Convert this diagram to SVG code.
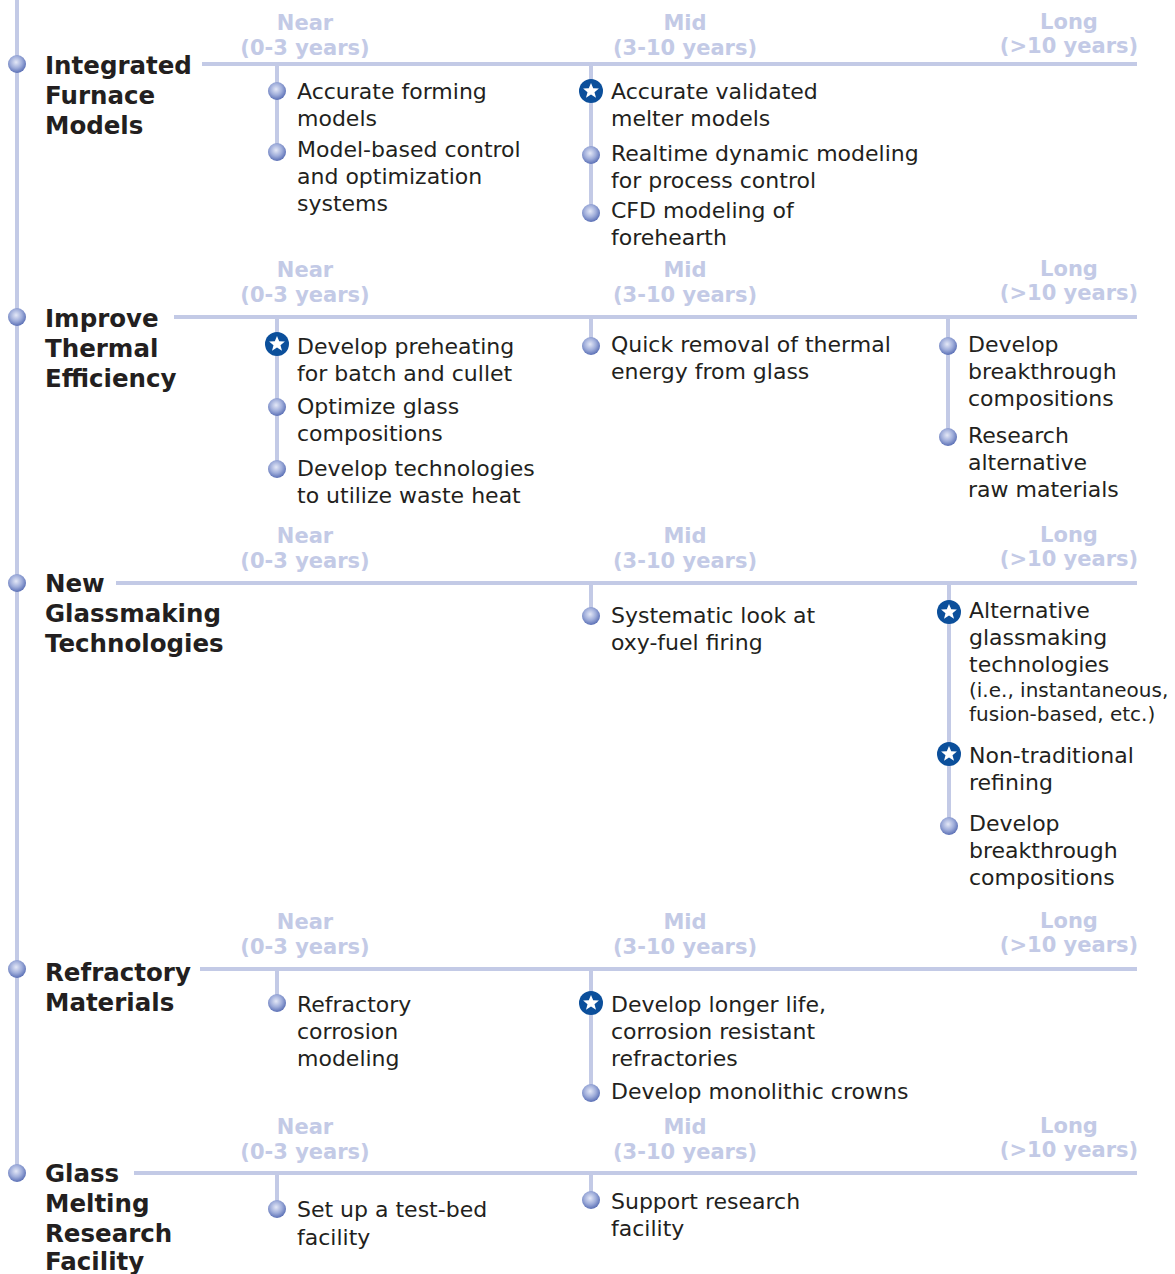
<svg xmlns="http://www.w3.org/2000/svg" xmlns:xlink="http://www.w3.org/1999/xlink" width="1175" height="1274" viewBox="0 0 1175 1274">
<style>
.ln{stroke:#c3cae6;stroke-width:4;fill:none}
.t{font-family:"DejaVu Sans",Verdana,sans-serif;font-size:22px;fill:#231f20}
.s{font-family:"DejaVu Sans",Verdana,sans-serif;font-size:20px;fill:#231f20}
.h{font-family:"DejaVu Sans",Verdana,sans-serif;font-size:24.5px;font-weight:bold;fill:#231f20}
.tl{font-family:"DejaVu Sans",Verdana,sans-serif;font-size:21px;font-weight:bold;fill:#c3cae6;text-anchor:middle}
</style>
<defs>
<radialGradient id="g" cx="0.45" cy="0.4" r="0.6">
<stop offset="0" stop-color="#e4e8f7"/>
<stop offset="0.55" stop-color="#9fadda"/>
<stop offset="1" stop-color="#5a6fb5"/>
</radialGradient>
<g id="b"><circle r="9" fill="url(#g)"/></g>
<g id="st"><circle r="12" fill="#0b4f9b"/><polygon fill="#fff" points="0,-8 2.2,-2.7 7.9,-2.5 3.5,1.2 5,6.8 0,3.6 -5,6.8 -3.5,1.2 -7.9,-2.5 -2.2,-2.7"/></g>
</defs>

<g id="connectors">
<line class="ln" x1="17" y1="0" x2="17" y2="1173"/>
<line class="ln" x1="202" y1="64" x2="1137" y2="64"/>
<line class="ln" x1="277" y1="64" x2="277" y2="152"/>
<line class="ln" x1="591" y1="64" x2="591" y2="213"/>
<line class="ln" x1="174" y1="317" x2="1137" y2="317"/>
<line class="ln" x1="277" y1="317" x2="277" y2="469"/>
<line class="ln" x1="591" y1="317" x2="591" y2="346"/>
<line class="ln" x1="948" y1="317" x2="948" y2="437"/>
<line class="ln" x1="116" y1="583" x2="1137" y2="583"/>
<line class="ln" x1="591" y1="583" x2="591" y2="616"/>
<line class="ln" x1="949" y1="583" x2="949" y2="826"/>
<line class="ln" x1="200" y1="969" x2="1137" y2="969"/>
<line class="ln" x1="277" y1="969" x2="277" y2="1003"/>
<line class="ln" x1="591" y1="969" x2="591" y2="1093"/>
<line class="ln" x1="134" y1="1173" x2="1137" y2="1173"/>
<line class="ln" x1="277" y1="1173" x2="277" y2="1209"/>
<line class="ln" x1="591" y1="1173" x2="591" y2="1200"/>
</g>

<g id="timeline-labels">
<text class="tl" x="305" y="30">Near</text><text class="tl" x="305" y="55">(0-3 years)</text>
<text class="tl" x="685" y="30">Mid</text><text class="tl" x="685" y="55">(3-10 years)</text>
<text class="tl" x="1069" y="29">Long</text><text class="tl" x="1069" y="53">(&gt;10 years)</text>
<text class="tl" x="305" y="277">Near</text><text class="tl" x="305" y="302">(0-3 years)</text>
<text class="tl" x="685" y="277">Mid</text><text class="tl" x="685" y="302">(3-10 years)</text>
<text class="tl" x="1069" y="276">Long</text><text class="tl" x="1069" y="300">(&gt;10 years)</text>
<text class="tl" x="305" y="543">Near</text><text class="tl" x="305" y="568">(0-3 years)</text>
<text class="tl" x="685" y="543">Mid</text><text class="tl" x="685" y="568">(3-10 years)</text>
<text class="tl" x="1069" y="542">Long</text><text class="tl" x="1069" y="566">(&gt;10 years)</text>
<text class="tl" x="305" y="929">Near</text><text class="tl" x="305" y="954">(0-3 years)</text>
<text class="tl" x="685" y="929">Mid</text><text class="tl" x="685" y="954">(3-10 years)</text>
<text class="tl" x="1069" y="928">Long</text><text class="tl" x="1069" y="952">(&gt;10 years)</text>
<text class="tl" x="305" y="1134">Near</text><text class="tl" x="305" y="1159">(0-3 years)</text>
<text class="tl" x="685" y="1134">Mid</text><text class="tl" x="685" y="1159">(3-10 years)</text>
<text class="tl" x="1069" y="1133">Long</text><text class="tl" x="1069" y="1157">(&gt;10 years)</text>
</g>

<g id="sec1">
<use xlink:href="#b" x="17" y="64"/>
<text class="h" x="45" y="74">Integrated</text><text class="h" x="45" y="104">Furnace</text><text class="h" x="45" y="134">Models</text>
</g>
<g id="s1n1"><use xlink:href="#b" x="277" y="91"/><text class="t" x="297" y="99">Accurate forming</text><text class="t" x="297" y="126">models</text></g>
<g id="s1n2"><use xlink:href="#b" x="277" y="152"/><text class="t" x="297" y="157">Model-based control</text><text class="t" x="297" y="184">and optimization</text><text class="t" x="297" y="211">systems</text></g>
<g id="s1m1"><use xlink:href="#st" x="591" y="91"/><text class="t" x="611" y="99">Accurate validated</text><text class="t" x="611" y="126">melter models</text></g>
<g id="s1m2"><use xlink:href="#b" x="591" y="155"/><text class="t" x="611" y="161">Realtime dynamic modeling</text><text class="t" x="611" y="188">for process control</text></g>
<g id="s1m3"><use xlink:href="#b" x="591" y="213"/><text class="t" x="611" y="218">CFD modeling of</text><text class="t" x="611" y="245">forehearth</text></g>

<g id="sec2">
<use xlink:href="#b" x="17" y="317"/>
<text class="h" x="45" y="327">Improve</text><text class="h" x="45" y="357">Thermal</text><text class="h" x="45" y="387">Efficiency</text>
</g>
<g id="s2n1"><use xlink:href="#st" x="277" y="344"/><text class="t" x="297" y="354">Develop preheating</text><text class="t" x="297" y="381">for batch and cullet</text></g>
<g id="s2n2"><use xlink:href="#b" x="277" y="407"/><text class="t" x="297" y="414">Optimize glass</text><text class="t" x="297" y="441">compositions</text></g>
<g id="s2n3"><use xlink:href="#b" x="277" y="469"/><text class="t" x="297" y="476">Develop technologies</text><text class="t" x="297" y="503">to utilize waste heat</text></g>
<g id="s2m1"><use xlink:href="#b" x="591" y="346"/><text class="t" x="611" y="352">Quick removal of thermal</text><text class="t" x="611" y="379">energy from glass</text></g>
<g id="s2l1"><use xlink:href="#b" x="948" y="346"/><text class="t" x="968" y="352">Develop</text><text class="t" x="968" y="379">breakthrough</text><text class="t" x="968" y="406">compositions</text></g>
<g id="s2l2"><use xlink:href="#b" x="948" y="437"/><text class="t" x="968" y="443">Research</text><text class="t" x="968" y="470">alternative</text><text class="t" x="968" y="497">raw materials</text></g>

<g id="sec3">
<use xlink:href="#b" x="17" y="583"/>
<text class="h" x="45" y="592">New</text><text class="h" x="45" y="622">Glassmaking</text><text class="h" x="45" y="652">Technologies</text>
</g>
<g id="s3m1"><use xlink:href="#b" x="591" y="616"/><text class="t" x="611" y="623">Systematic look at</text><text class="t" x="611" y="650">oxy-fuel firing</text></g>
<g id="s3l1"><use xlink:href="#st" x="949" y="612"/><text class="t" x="969" y="618">Alternative</text><text class="t" x="969" y="645">glassmaking</text><text class="t" x="969" y="672">technologies</text><text class="s" x="969" y="697">(i.e., instantaneous,</text><text class="s" x="969" y="721">fusion-based, etc.)</text></g>
<g id="s3l2"><use xlink:href="#st" x="949" y="754"/><text class="t" x="969" y="763">Non-traditional</text><text class="t" x="969" y="790">refining</text></g>
<g id="s3l3"><use xlink:href="#b" x="949" y="826"/><text class="t" x="969" y="831">Develop</text><text class="t" x="969" y="858">breakthrough</text><text class="t" x="969" y="885">compositions</text></g>

<g id="sec4">
<use xlink:href="#b" x="17" y="969"/>
<text class="h" x="45" y="981">Refractory</text><text class="h" x="45" y="1011">Materials</text>
</g>
<g id="s4n1"><use xlink:href="#b" x="277" y="1003"/><text class="t" x="297" y="1012">Refractory</text><text class="t" x="297" y="1039">corrosion</text><text class="t" x="297" y="1066">modeling</text></g>
<g id="s4m1"><use xlink:href="#st" x="591" y="1003"/><text class="t" x="611" y="1012">Develop longer life,</text><text class="t" x="611" y="1039">corrosion resistant</text><text class="t" x="611" y="1066">refractories</text></g>
<g id="s4m2"><use xlink:href="#b" x="591" y="1093"/><text class="t" x="611" y="1099">Develop monolithic crowns</text></g>

<g id="sec5">
<use xlink:href="#b" x="17" y="1173"/>
<text class="h" x="45" y="1182">Glass</text><text class="h" x="45" y="1212">Melting</text><text class="h" x="45" y="1242">Research</text><text class="h" x="45" y="1270">Facility</text>
</g>
<g id="s5n1"><use xlink:href="#b" x="277" y="1209"/><text class="t" x="297" y="1217">Set up a test-bed</text><text class="t" x="297" y="1245">facility</text></g>
<g id="s5m1"><use xlink:href="#b" x="591" y="1200"/><text class="t" x="611" y="1209">Support research</text><text class="t" x="611" y="1236">facility</text></g>
</svg>
